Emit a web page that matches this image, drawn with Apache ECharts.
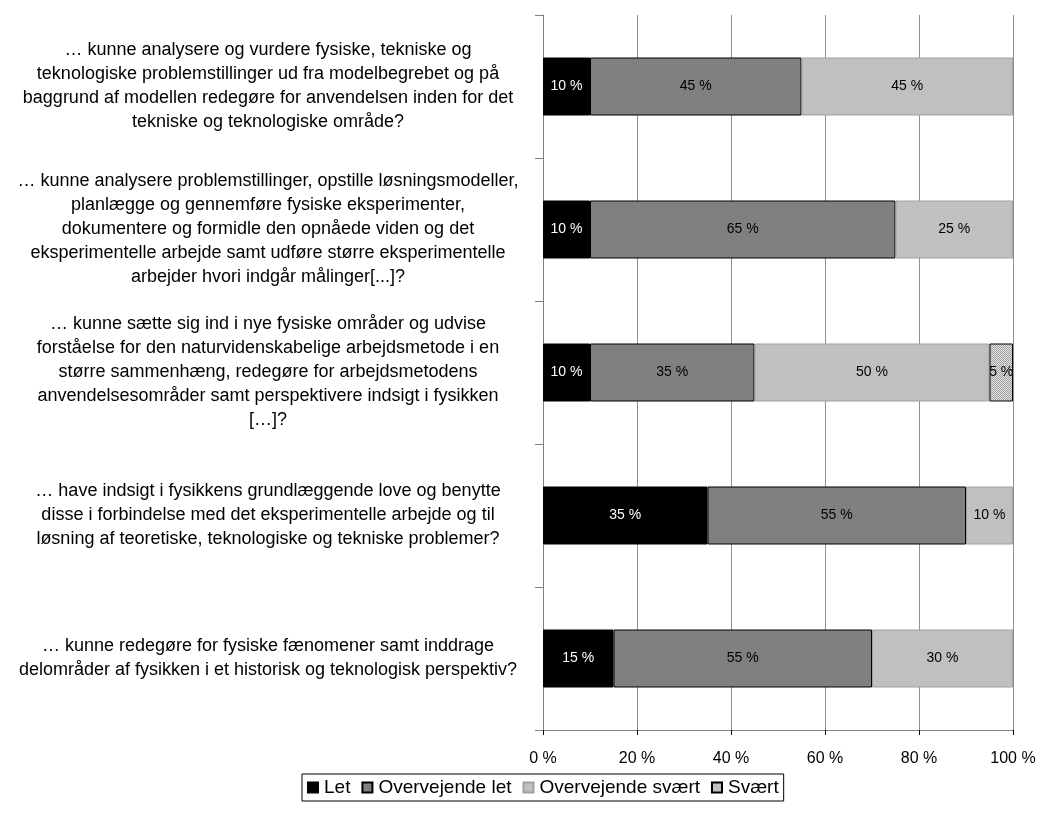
<!DOCTYPE html>
<html>
<head>
<meta charset="utf-8">
<script src="https://cdn.jsdelivr.net/npm/echarts@6/dist/echarts.min.js"></script>
<style>html,body{margin:0;padding:0;background:#fff}#c{width:1042px;height:815px}</style>
</head>
<body>
<div id="c"></div>
<script>
var categories = [
  "… kunne analysere og vurdere fysiske, tekniske og\nteknologiske problemstillinger ud fra modelbegrebet og på\nbaggrund af modellen redegøre for anvendelsen inden for det\ntekniske og teknologiske område?",
  "… kunne analysere problemstillinger, opstille løsningsmodeller,\nplanlægge og gennemføre fysiske eksperimenter,\ndokumentere og formidle den opnåede viden og det\neksperimentelle arbejde samt udføre større eksperimentelle\narbejder hvori indgår målinger[...]?",
  "… kunne sætte sig ind i nye fysiske områder og udvise\nforståelse for den naturvidenskabelige arbejdsmetode i en\nstørre sammenhæng, redegøre for arbejdsmetodens\nanvendelsesområder samt perspektivere indsigt i fysikken\n[…]?",
  "… have indsigt i fysikkens grundlæggende love og benytte\ndisse i forbindelse med det eksperimentelle arbejde og til\nløsning af teoretiske, teknologiske og tekniske problemer?",
  "… kunne redegøre for fysiske fænomener samt inddrage\ndelområder af fysikken i et historisk og teknologisk perspektiv?"
];
var seriesNames = ["Let", "Overvejende let", "Overvejende svært", "Svært"];
var letValues = [10, 10, 10, 35, 15];
var overvejendeLetValues = [45, 65, 35, 55, 55];
var overvejendeSvaertValues = [45, 25, 50, 10, 30];
var svaertValues = [0, 0, 5, 0, 0];
var xTicks = [0, 20, 40, 60, 80, 100];

// checkered pattern for "Svært"
var pc = document.createElement('canvas');
pc.width = 4; pc.height = 4;
var pctx = pc.getContext('2d');
pctx.fillStyle = '#e8e8e8'; pctx.fillRect(0, 0, 4, 4);
pctx.fillStyle = '#9a9a9a';
pctx.fillRect(0, 0, 1, 1); pctx.fillRect(2, 0, 1, 1);
pctx.fillRect(1, 1, 1, 1); pctx.fillRect(3, 1, 1, 1);
pctx.fillRect(0, 2, 1, 1); pctx.fillRect(2, 2, 1, 1);
pctx.fillRect(1, 3, 1, 1); pctx.fillRect(3, 3, 1, 1);
var pattern = {image: pc, repeat: 'repeat'};

var fills = ['#000000', '#808080', '#c0c0c0', pattern];
var borders = ['#000000', '#000000', '#a0a0a0', '#000000'];
var labelColors = ['#ffffff', '#000000', '#000000', '#000000'];
var values = [letValues, overvejendeLetValues, overvejendeSvaertValues, svaertValues];

var series = values.map(function (vals, i) {
  return {
    name: seriesNames[i],
    type: 'bar',
    stack: 'total',
    barWidth: 58,
    data: vals.map(function (v) { return v === 0 ? '-' : v; }),
    itemStyle: {color: fills[i], borderColor: borders[i], borderWidth: 1},
    label: {
      show: true,
      position: 'inside',
      color: labelColors[i],
      fontFamily: 'Liberation Sans, Arial, sans-serif',
      fontSize: 14,
      formatter: function (p) { return p.value + ' %'; }
    },
    emphasis: {disabled: true}
  };
});

var chart = echarts.init(document.getElementById('c'), null, {renderer: 'canvas'});
chart.setOption({
  animation: false,
  backgroundColor: '#ffffff',
  textStyle: {fontFamily: 'Liberation Sans, Arial, sans-serif'},
  grid: {left: 543, right: 29, top: 15, bottom: 85},
  legend: {
    data: seriesNames,
    bottom: 14,
    left: 302,
    icon: 'rect',
    itemWidth: 10,
    itemHeight: 10,
    itemGap: 11,
    padding: [4, 5, 4, 5],
    borderColor: '#000000',
    borderWidth: 1,
    textStyle: {fontSize: 19, color: '#000', padding: [0, 0, 0, 1]}
  },
  xAxis: {
    type: 'value',
    min: 0,
    max: 100,
    interval: 20,
    axisLine: {show: true, lineStyle: {color: '#808080'}},
    axisTick: {show: true, length: 5, lineStyle: {color: '#000'}},
    splitLine: {show: true, lineStyle: {color: '#909090', width: 1}},
    axisLabel: {
      color: '#000',
      fontSize: 16,
      margin: 21,
      formatter: function (v) { return xTicks.indexOf(v) >= 0 ? v + ' %' : ''; }
    }
  },
  yAxis: {
    type: 'category',
    inverse: true,
    data: categories,
    axisLine: {show: true, lineStyle: {color: '#808080'}},
    axisTick: {show: true, length: 8, lineStyle: {color: '#808080'}},
    axisLabel: {
      align: 'center',
      margin: 275,
      color: '#000',
      fontSize: 18,
      lineHeight: 24
    }
  },
  series: series
});
</script>
</body>
</html>
